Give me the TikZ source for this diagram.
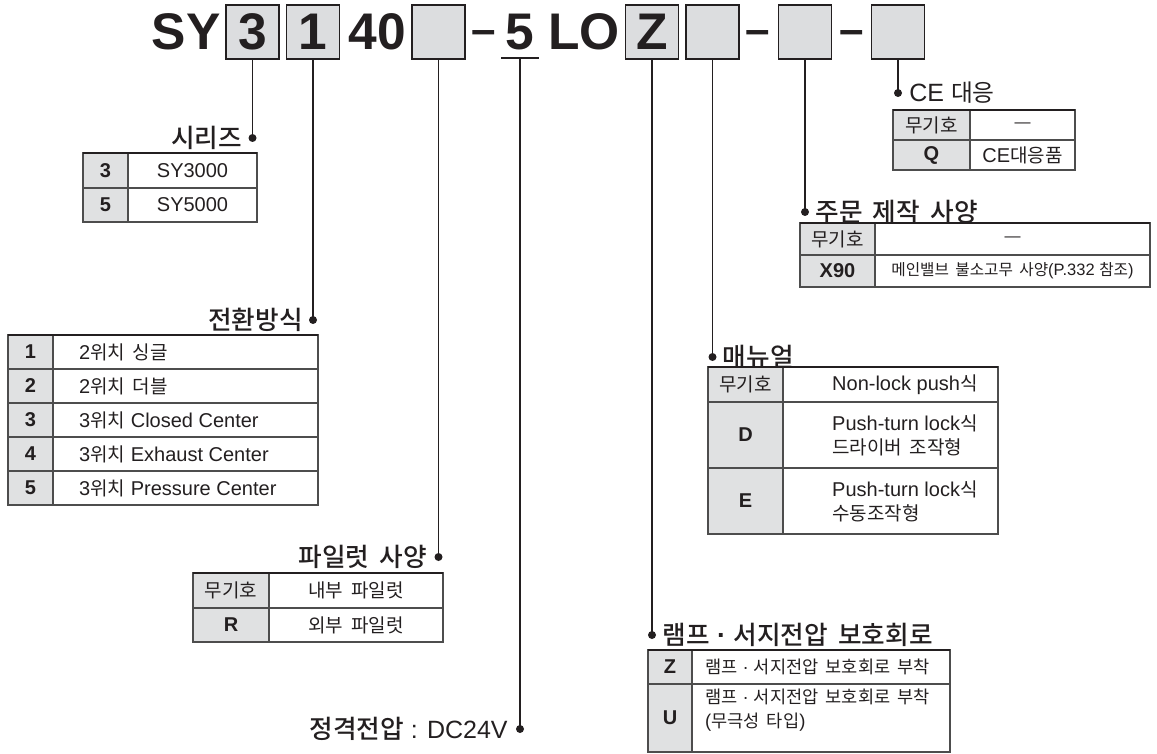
\documentclass[tikz,border=0pt]{standalone}
\usepackage{fontspec}
\setmainfont{Liberation Sans}
\newfontfamily\kr[Scale=0.95,WordSpace=1.8]{Noto Sans CJK KR}
\newfontfamily\krm[Scale=0.95,WordSpace=1.8]{Noto Sans CJK KR Medium}
\newcommand\hg[1]{{\kr #1}}
\newcommand\hgm[1]{{\krm #1}}
\usetikzlibrary{positioning}
\definecolor{BoxGray}{HTML}{DCDDDF}
\definecolor{KeyGray}{HTML}{E0E1E2}
\definecolor{Rule}{HTML}{4D4D4D}
\definecolor{Ink}{HTML}{231F20}
\tikzset{
  ttl/.style={font=\bfseries\fontsize{51.5}{60}\selectfont,inner sep=0pt,anchor=base},
  hyph/.style={font=\bfseries\fontsize{44}{50}\selectfont,inner sep=0pt,anchor=base},
  tbox/.style={draw=Ink,fill=BoxGray,line width=1.8pt,minimum width=53pt,minimum height=54pt,inner sep=0pt,outer sep=0pt,font=\bfseries\fontsize{51.5}{60}\selectfont},
  dot/.style={circle,fill=Ink,inner sep=0pt,minimum size=8pt},
  lead/.style={draw=Ink,line width=1.8pt},
  head/.style={font=\fontsize{27}{32}\selectfont,inner sep=0pt},
  keycell/.style={draw=Rule,fill=KeyGray,line width=1.2pt,inner sep=0pt,outer sep=0pt,anchor=north west,font=\bfseries\fontsize{20}{24}\selectfont},
  valcell/.style={draw=Rule,line width=1.2pt,inner sep=0pt,outer sep=0pt,anchor=north west,align=center,font=\fontsize{20}{24}\selectfont},
  celltext/.style={inner sep=0pt,align=left,font=\fontsize{20}{24}\selectfont},
  topline/.style={draw=Ink,line width=2.4pt}
}
\begin{document}
\begin{tikzpicture}[x=1pt,y=-1pt,text=Ink]
  \useasboundingbox (0,0) rectangle (1157,754);
  % model number
  \node[ttl] (sy) at (186,50) {SY};
  \node[tbox] (b3) at (252.5,32) {3};
  \node[tbox] (b1) at (313,32) {1};
  \node[ttl] (n40) at (377.5,50) {40};
  \node[tbox] (bp) at (438.5,32) {};
  \node[hyph] (m1) at (483.5,44.5) {–};
  \node[ttl] (n5) at (520,50) {5};
  \node[ttl] (lo) at (584,50) {LO};
  \node[tbox] (bz) at (652,32) {Z};
  \node[tbox] (bm) at (712.5,32) {};
  \node[hyph] (m2) at (757.5,44.5) {–};
  \node[tbox] (bx) at (805,32) {};
  \node[hyph] (m3) at (851.5,44.5) {–};
  \node[tbox] (bc) at (898,32) {};
  \coordinate (u5) at (520,58);
  \draw[lead] ([xshift=-19pt]u5) -- ([xshift=19pt]u5);

  % leaders
  \node[dot] (d3) at (b3.south |- 0,138) {};
  \node[dot] (d1) at (b1.south |- 0,320) {};
  \node[dot] (dp) at (bp.south |- 0,557) {};
  \node[dot] (d5) at (u5 |- 0,729) {};
  \node[dot] (dz) at (bz.south |- 0,635) {};
  \node[dot] (dm) at (bm.south |- 0,357) {};
  \node[dot] (dx) at (bx.south |- 0,212) {};
  \node[dot] (dc) at (bc.south |- 0,93) {};
  \draw[lead] (b3.south) -- (d3.center);\draw[lead] (b1.south) -- (d1.center);
  \draw[lead] (bp.south) -- (dp.center);\draw[lead] (u5) -- (d5.center);
  \draw[lead] (bz.south) -- (dz.center);\draw[lead] (bm.south) -- (dm.center);
  \draw[lead] (bx.south) -- (dx.center);\draw[lead] (bc.south) -- (dc.center);

  % headings
  \node[head,left=6pt of d3] (h3) {\hgm{시리즈}};
  \node[head,left=6pt of d1] (h1) {\hgm{전환방식}};
  \node[head,left=7pt of dp] (hp) {\hgm{파일럿 사양}};
  \node[head,left=8pt of d5] (h5) {\hgm{정격전압}\fontsize{25}{30}\selectfont{} : DC24V};
  \node[head,right=6pt of dz] (hz) {\hgm{램프} \textbf{·} \hgm{서지전압 보호회로}};
  \node[head,right=6pt of dm] (hm) {\hgm{매뉴얼}};
  \node[head,right=6pt of dx] (hx) {\hgm{주문 제작 사양}};
  \node[head,right=7pt of dc,font=\fontsize{25}{30}\selectfont] (hc) {CE \hg{대응}};

  % series
  \node[keycell,minimum width=45pt,minimum height=35pt] (s1k) at (83,153) {3};
  \node[valcell,minimum width=129pt,minimum height=35pt] (s1v) at (128,153) {SY3000};
  \node[keycell,minimum width=45pt,minimum height=34pt] (s2k) at (83,188) {5};
  \node[valcell,minimum width=129pt,minimum height=34pt] (s2v) at (128,188) {SY5000};
  \draw[topline] (s1k.north west) -- (s1v.north east);

  % switching type
  \node[keycell,minimum width=45pt,minimum height=34pt] (t1k) at (8,335) {1};
  \node[valcell,minimum width=265pt,minimum height=34pt] (t1v) at (53,335) {};
  \node[celltext,right=26pt of t1v.west] (t1t) {2\hg{위치 싱글}};
  \node[keycell,minimum width=45pt,minimum height=34pt] (t2k) at (8,369) {2};
  \node[valcell,minimum width=265pt,minimum height=34pt] (t2v) at (53,369) {};
  \node[celltext,right=26pt of t2v.west] (t2t) {2\hg{위치 더블}};
  \node[keycell,minimum width=45pt,minimum height=34pt] (t3k) at (8,403) {3};
  \node[valcell,minimum width=265pt,minimum height=34pt] (t3v) at (53,403) {};
  \node[celltext,right=26pt of t3v.west] (t3t) {3\hg{위치} Closed Center};
  \node[keycell,minimum width=45pt,minimum height=34pt] (t4k) at (8,437) {4};
  \node[valcell,minimum width=265pt,minimum height=34pt] (t4v) at (53,437) {};
  \node[celltext,right=26pt of t4v.west] (t4t) {3\hg{위치} Exhaust Center};
  \node[keycell,minimum width=45pt,minimum height=34pt] (t5k) at (8,471) {5};
  \node[valcell,minimum width=265pt,minimum height=34pt] (t5v) at (53,471) {};
  \node[celltext,right=26pt of t5v.west] (t5t) {3\hg{위치} Pressure Center};
  \draw[topline] (t1k.north west) -- (t1v.north east);

  % pilot
  \node[keycell,minimum width=76pt,minimum height=35pt,font=\fontsize{20}{24}\selectfont] (p1k) at (193,573) {\hg{무기호}};
  \node[valcell,minimum width=174pt,minimum height=35pt] (p1v) at (269,573) {\hg{내부 파일럿}};
  \node[keycell,minimum width=76pt,minimum height=34pt] (p2k) at (193,608) {R};
  \node[valcell,minimum width=174pt,minimum height=34pt] (p2v) at (269,608) {\hg{외부 파일럿}};
  \draw[topline] (p1k.north west) -- (p1v.north east);

  % lamp and surge voltage suppressor
  \node[keycell,minimum width=44pt,minimum height=34pt] (z1k) at (648,650) {Z};
  \node[valcell,minimum width=258pt,minimum height=34pt] (z1v) at (692,650) {};
  \node[celltext,right=13pt of z1v.west,font=\fontsize{18.5}{24}\selectfont] (z1t) {\hg{램프} · \hg{서지전압 보호회로 부착}};
  \node[keycell,minimum width=44pt,minimum height=68pt] (z2k) at (648,684) {U};
  \node[valcell,minimum width=258pt,minimum height=68pt] (z2v) at (692,684) {};
  \node[celltext,right=13pt of z2v.west,yshift=8pt,font=\fontsize{18.5}{24}\selectfont] (z2t) {\hg{램프} · \hg{서지전압 보호회로 부착}\\(\hg{무극성 타입})};
  \draw[topline] (z1k.north west) -- (z1v.north east);

  % manual override
  \node[keycell,minimum width=75pt,minimum height=35pt,font=\fontsize{20}{24}\selectfont] (v1k) at (708,367) {\hg{무기호}};
  \node[valcell,minimum width=215pt,minimum height=35pt] (v1v) at (783,367) {};
  \node[celltext,right=49pt of v1v.west] (v1t) {Non-lock push\hg{식}};
  \node[keycell,minimum width=75pt,minimum height=66pt] (v2k) at (708,402) {D};
  \node[valcell,minimum width=215pt,minimum height=66pt] (v2v) at (783,402) {};
  \node[celltext,right=49pt of v2v.west] (v2t) {Push-turn lock\hg{식}\\\hg{드라이버 조작형}};
  \node[keycell,minimum width=75pt,minimum height=66pt] (v3k) at (708,468) {E};
  \node[valcell,minimum width=215pt,minimum height=66pt] (v3v) at (783,468) {};
  \node[celltext,right=49pt of v3v.west] (v3t) {Push-turn lock\hg{식}\\\hg{수동조작형}};
  \draw[topline] (v1k.north west) -- (v1v.north east);

  % made to order
  \node[keycell,minimum width=75pt,minimum height=32pt,font=\fontsize{20}{24}\selectfont] (x1k) at (800,223) {\hg{무기호}};
  \node[valcell,minimum width=275pt,minimum height=32pt,font=\fontsize{16}{20}\selectfont] (x1v) at (875,223) {—};
  \node[keycell,minimum width=75pt,minimum height=32pt] (x2k) at (800,255) {X90};
  \node[valcell,minimum width=275pt,minimum height=32pt,font=\fontsize{16.5}{20}\selectfont] (x2v) at (875,255) {\hg{메인밸브 불소고무 사양}(P.332 \hg{참조})};
  \draw[topline] (x1k.north west) -- (x1v.north east);

  % CE
  \node[keycell,minimum width=77pt,minimum height=30pt,font=\fontsize{20}{24}\selectfont] (c1k) at (893,110) {\hg{무기호}};
  \node[valcell,minimum width=105pt,minimum height=30pt,font=\fontsize{16}{20}\selectfont] (c1v) at (970,110) {—};
  \node[keycell,minimum width=77pt,minimum height=30pt] (c2k) at (893,140) {Q};
  \node[valcell,minimum width=105pt,minimum height=30pt] (c2v) at (970,140) {CE\hg{대응품}};
  \draw[topline] (c1k.north west) -- (c1v.north east);
\end{tikzpicture}
\end{document}
